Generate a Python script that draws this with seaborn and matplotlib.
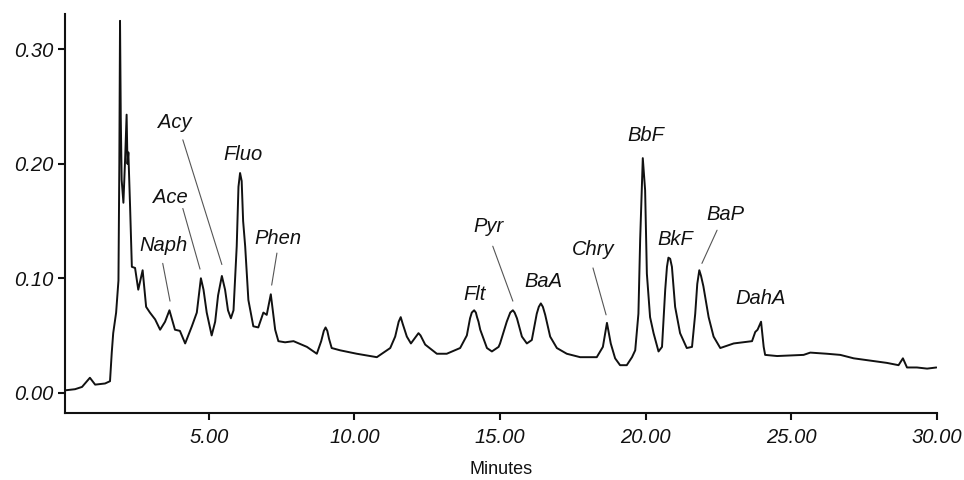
import matplotlib
matplotlib.use("Agg")
import matplotlib.pyplot as plt
import seaborn as sns
import pandas as pd
from matplotlib.ticker import FormatStrFormatter

# ---- data ----
minutes = [0.065, 0.41, 0.65, 0.92, 1.10, 1.44, 1.61, 1.67, 1.72, 1.82, 1.90, 1.93, 1.954,
           1.98, 2.01, 2.07, 2.13, 2.18, 2.21, 2.24, 2.30, 2.36, 2.47, 2.58, 2.73, 2.85,
           2.98, 3.16, 3.33, 3.50, 3.65, 3.84, 4.01, 4.19, 4.42, 4.59, 4.73, 4.82, 4.93,
           5.10, 5.22, 5.32, 5.45, 5.56, 5.66, 5.76, 5.85, 5.96, 6.02, 6.075, 6.13, 6.18,
           6.25, 6.36, 6.53, 6.70, 6.875, 6.99, 7.13, 7.28, 7.39, 7.62, 7.91, 8.37, 8.71,
           8.86, 8.95, 9.01, 9.07, 9.13, 9.22, 9.51, 10.08, 10.77, 11.23, 11.40, 11.52,
           11.59, 11.66, 11.80, 11.94, 12.14, 12.20, 12.27, 12.43, 12.83, 13.17, 13.63,
           13.86, 13.97, 14.03, 14.11, 14.17, 14.21, 14.26, 14.32, 14.55, 14.72, 14.95,
           15.00, 15.23, 15.35, 15.44, 15.50, 15.58, 15.75, 15.92, 16.09, 16.26, 16.33,
           16.40, 16.47, 16.55, 16.72, 16.95, 17.29, 17.75, 18.32, 18.53, 18.67, 18.80,
           18.95, 19.12, 19.35, 19.53, 19.64, 19.75, 19.81, 19.90, 19.98, 20.04, 20.15,
           20.27, 20.44, 20.56, 20.67, 20.73, 20.78, 20.84, 20.90, 21.01, 21.18, 21.41,
           21.59, 21.70, 21.77, 21.84, 21.90, 21.98, 22.16, 22.33, 22.56, 23.02, 23.65,
           23.76, 23.84, 23.96, 24.05, 24.10, 24.51, 25.42, 25.65, 26.22, 26.68, 27.14,
           27.71, 28.28, 28.68, 28.83, 28.97, 29.31, 29.66, 29.98]
absorbance = [0.002, 0.003, 0.005, 0.013, 0.007, 0.008, 0.010, 0.035, 0.052, 0.070, 0.098,
              0.200, 0.325, 0.240, 0.186, 0.166, 0.205, 0.243, 0.200, 0.210, 0.162, 0.110,
              0.109, 0.090, 0.107, 0.075, 0.070, 0.064, 0.055, 0.062, 0.072, 0.055, 0.054,
              0.043, 0.058, 0.070, 0.100, 0.090, 0.070, 0.050, 0.062, 0.085, 0.102, 0.090,
              0.072, 0.065, 0.072, 0.128, 0.180, 0.192, 0.185, 0.150, 0.128, 0.081, 0.058,
              0.057, 0.070, 0.068, 0.086, 0.055, 0.045, 0.044, 0.045, 0.040, 0.034, 0.045,
              0.054, 0.057, 0.054, 0.047, 0.039, 0.037, 0.034, 0.031, 0.039, 0.049, 0.062,
              0.066, 0.060, 0.049, 0.043, 0.050, 0.052, 0.050, 0.042, 0.034, 0.034, 0.039,
              0.050, 0.065, 0.070, 0.072, 0.070, 0.066, 0.062, 0.055, 0.039, 0.036, 0.040,
              0.043, 0.062, 0.070, 0.072, 0.070, 0.065, 0.049, 0.043, 0.046, 0.069, 0.075,
              0.078, 0.075, 0.068, 0.049, 0.039, 0.034, 0.031, 0.031, 0.040, 0.061, 0.043,
              0.030, 0.024, 0.024, 0.031, 0.037, 0.069, 0.134, 0.205, 0.177, 0.104, 0.066,
              0.052, 0.036, 0.040, 0.090, 0.110, 0.118, 0.117, 0.110, 0.075, 0.052, 0.039,
              0.040, 0.069, 0.095, 0.107, 0.102, 0.093, 0.066, 0.049, 0.039, 0.043, 0.045,
              0.053, 0.055, 0.062, 0.040, 0.033, 0.032, 0.033, 0.035, 0.034, 0.033, 0.030,
              0.028, 0.026, 0.024, 0.030, 0.022, 0.022, 0.021, 0.022]

peak_names = ["Naph", "Ace", "Acy", "Fluo", "Phen", "Flt", "Pyr", "BaA", "Chry",
              "BbF", "BkF", "BaP", "DahA"]

x_ticks = [5, 10, 15, 20, 25, 30]
y_ticks = [0.0, 0.10, 0.20, 0.30]

# ---- annotation layout (label centre, optional leader line) ----
label_pos = {
    "Naph": (3.43, 0.129), "Ace": (3.67, 0.171), "Acy": (3.84, 0.236),
    "Fluo": (6.17, 0.208), "Phen": (7.39, 0.135), "Flt": (14.11, 0.0855),
    "Pyr": (14.60, 0.145), "BaA": (16.49, 0.097), "Chry": (18.19, 0.125),
    "BbF": (20.02, 0.225), "BkF": (21.01, 0.134), "BaP": (22.73, 0.156),
    "DahA": (23.93, 0.082),
}
leader = {
    "Naph": ((3.42, 0.113), (3.67, 0.080)),
    "Ace": ((4.11, 0.161), (4.70, 0.108)),
    "Acy": ((4.11, 0.221), (5.45, 0.112)),
    "Phen": ((7.34, 0.122), (7.16, 0.094)),
    "Pyr": ((14.75, 0.128), (15.44, 0.080)),
    "Chry": ((18.19, 0.109), (18.64, 0.068)),
    "BaP": ((22.45, 0.142), (21.93, 0.113)),
}

sns.set_theme(style="ticks")
plt.rcParams["font.family"] = ["Liberation Sans", "DejaVu Sans"]

fig = plt.figure(figsize=(9.64, 4.80), dpi=100)
ax = fig.add_axes([65 / 964, 1 - 413 / 480, (937 - 65) / 964, (413 - 14) / 480])

df = pd.DataFrame({"Minutes": minutes, "Absorbance": absorbance})
sns.lineplot(data=df, x="Minutes", y="Absorbance", ax=ax, color="#111111",
             linewidth=1.4, estimator=None, sort=False)

for name in peak_names:
    tx, ty = label_pos[name]
    ax.text(tx, ty, name, ha="center", va="center", fontsize=14.5,
            fontstyle="italic", color="#111111")
    if name in leader:
        (x0, y0), (x1, y1) = leader[name]
        ax.plot([x0, x1], [y0, y1], color="#555555", linewidth=0.8)

ax.set_xlim(0.065, 30.0)
ax.set_ylim(-0.0178, 0.331)
ax.set_xticks(x_ticks)
ax.set_yticks(y_ticks)
ax.xaxis.set_major_formatter(FormatStrFormatter("%.2f"))
ax.yaxis.set_major_formatter(FormatStrFormatter("%.2f"))
for lab in ax.get_xticklabels() + ax.get_yticklabels():
    lab.set_fontstyle("italic")
ax.tick_params(axis="both", labelsize=14.5, colors="#111111", length=5, width=1.5)
ax.tick_params(axis="x", pad=6)
ax.tick_params(axis="y", pad=3)

sns.despine(ax=ax)
for side in ["left", "bottom"]:
    ax.spines[side].set_linewidth(1.5)
    ax.spines[side].set_color("#111111")

ax.set_xlabel("Minutes", fontsize=13, color="#111111", labelpad=10)
ax.set_ylabel("")

fig.savefig("out.png", dpi=100)
